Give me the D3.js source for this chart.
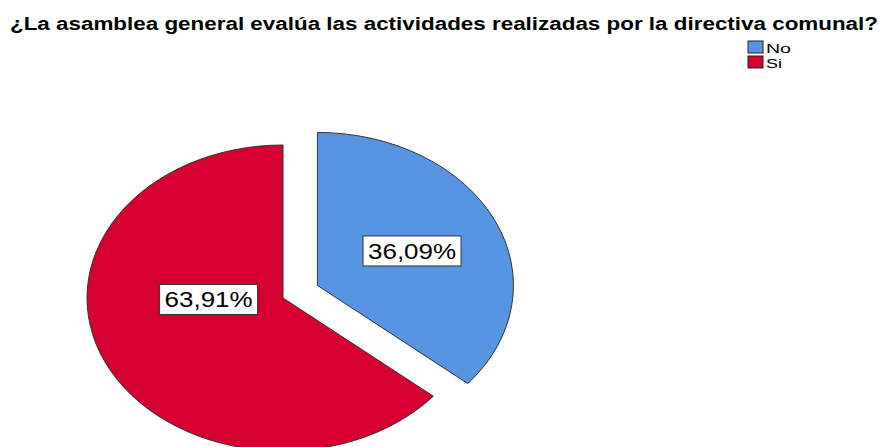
<!DOCTYPE html>
<html>
<head>
<meta charset="utf-8">
<script src="https://cdn.jsdelivr.net/npm/d3@7"></script>
<style>
  body { margin: 0; background: #fff; }
  #chart text { font-family: Arial, "Liberation Sans", sans-serif; fill: #000; }
</style>
</head>
<body>
<svg id="chart"></svg>
<script>
var titleText = '¿La asamblea general evalúa las actividades realizadas por la directiva comunal?';
var categories = ['No', 'Si'];
var percents = [36.09, 63.91];
var colors = ['#5795e2', '#d5002f'];

var width = 881, height = 447;
var rx = 196, ry = 153;              // ellipse radii of the pie
var center = {x: 283, y: 298};
var explode = 38;                    // 'No' slice is pulled out
// SPSS pulls the big slice label a bit towards the middle
var labelNudge = [{x: 0, y: 0}, {x: -21, y: -18}];

var svg = d3.select('#chart')
    .attr('width', width)
    .attr('height', height);

svg.append('rect')
    .attr('width', width)
    .attr('height', height)
    .attr('fill', '#fff');

// title
svg.append('text')
    .attr('x', 10)
    .attr('y', 30)
    .attr('font-size', 18)
    .attr('font-weight', 'bold')
    .attr('textLength', 868)
    .attr('lengthAdjust', 'spacingAndGlyphs')
    .text(titleText);

// legend
var legend = svg.append('g')
    .attr('transform', 'translate(748,41)');

var legendItem = legend.selectAll('g').data(categories).enter().append('g')
    .attr('transform', function(d, i) { return 'translate(0,' + (i * 15) + ')'; });

legendItem.append('rect')
    .attr('width', 15)
    .attr('height', 12)
    .attr('fill', function(d, i) { return colors[i]; })
    .attr('stroke', '#222')
    .attr('stroke-width', 1);

legendItem.append('text')
    .attr('x', 18)
    .attr('y', 12)
    .attr('font-size', 13)
    .attr('textLength', function(d) { return d === 'No' ? 25 : 16; })
    .attr('lengthAdjust', 'spacingAndGlyphs')
    .text(function(d) { return d; });

// pie
var pie = d3.pie().sort(null).value(function(d) { return d; });
var arcs = pie(percents);
var arc = d3.arc().innerRadius(0).outerRadius(rx);
var sy = ry / rx;

function offsetOf(d, i) {
  if (i !== 0) return {x: 0, y: 0};
  var mid = (d.startAngle + d.endAngle) / 2;
  return {x: Math.sin(mid) * explode, y: -Math.cos(mid) * explode * sy};
}

var pieG = svg.append('g')
    .attr('transform', 'translate(' + center.x + ',' + center.y + ')');

pieG.selectAll('path.slice').data(arcs).enter().append('path')
    .attr('class', 'slice')
    .attr('transform', function(d, i) {
      var o = offsetOf(d, i);
      return 'translate(' + o.x + ',' + o.y + ') scale(1,' + sy + ')';
    })
    .attr('d', arc)
    .attr('fill', function(d, i) { return colors[i]; })
    .attr('stroke', '#333')
    .attr('stroke-width', 1)
    .attr('vector-effect', 'non-scaling-stroke');

// labels at the centroid of each sector
var labels = pieG.selectAll('g.lab').data(arcs).enter().append('g')
    .attr('class', 'lab')
    .attr('transform', function(d, i) {
      var o = offsetOf(d, i);
      var half = (d.endAngle - d.startAngle) / 2;
      var mid = d.startAngle + half;
      var k = 2 * Math.sin(half) / (3 * half) * rx;
      var x = o.x + Math.sin(mid) * k + labelNudge[i].x;
      var y = o.y - Math.cos(mid) * k * sy + labelNudge[i].y;
      return 'translate(' + x + ',' + y + ')';
    });

labels.append('rect')
    .attr('x', -49)
    .attr('y', -15)
    .attr('width', 98)
    .attr('height', 30)
    .attr('fill', '#fff')
    .attr('stroke', '#333')
    .attr('stroke-width', 1);

labels.append('text')
    .attr('text-anchor', 'middle')
    .attr('y', 8)
    .attr('font-size', 22)
    .attr('textLength', 88)
    .attr('lengthAdjust', 'spacingAndGlyphs')
    .text(function(d) { return d3.format('.2f')(d.data).replace('.', ',') + '%'; });
</script>
</body>
</html>
